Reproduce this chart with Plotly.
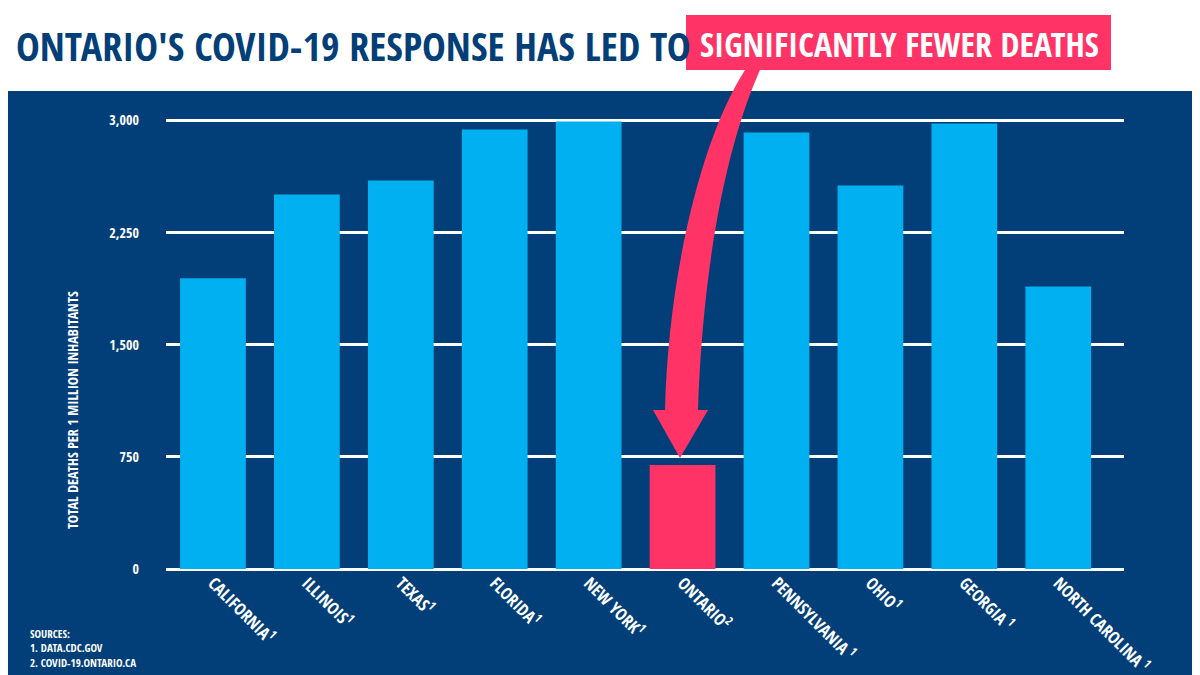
import plotly.graph_objects as go

# data
states = ["CALIFORNIA", "ILLINOIS", "TEXAS", "FLORIDA", "NEW YORK",
          "ONTARIO", "PENNSYLVANIA", "OHIO", "GEORGIA", "NORTH CAROLINA"]
source_ref = ["1", "1", "1", "1", "1", "2", " 1", "1", " 1", " 1"]
deaths_per_million = [1944, 2505, 2599, 2939, 2993, 695, 2919, 2565, 2979, 1890]
y_ticks = [0, 750, 1500, 2250, 3000]

NAVY = "#023f78"
CYAN = "#00b0f0"
PINK = "#ff3366"
FONT = "Open Sans Condensed, Roboto Condensed, sans-serif"

tick_text = ["<b>" + s + "</b><sup>" + r + "</sup>" for s, r in zip(states, source_ref)]
bar_colors = [PINK if s == "ONTARIO" else CYAN for s in states]

# page body adds an 8px offset; positions below are in screenshot pixels
OFF = 8
W, H = 1200, 675
L, R = 166 - OFF, W - (1124 - OFF)
T, B = 116 - OFF, H - (569 - OFF)
pw, ph = W - L - R, H - T - B


def px(x, y):
    return (x - OFF - L) / pw, (H - B - (y - OFF)) / ph


def path(cmds):
    out = []
    for c in cmds:
        if isinstance(c, str):
            out.append(c)
        else:
            a, b = px(*c)
            out.append("%.4f,%.4f" % (a, b))
    return " ".join(out)


fig = go.Figure()
fig.add_trace(go.Bar(
    x=list(range(len(states))),
    y=deaths_per_million,
    marker=dict(color=bar_colors, line=dict(width=0)),
    hoverinfo="skip",
))

arrow = path(["M", (745, 70), "C", (700, 140), (668, 280), (665, 410),
              "L", (653, 410), "L", (680, 458), "L", (708, 410), "L", (698, 410),
              "C", (702, 290), (720, 160), (760, 70), "Z"])

x0, y0 = px(0, 0)
x1, y1 = px(W + OFF, 91)
bx0, by0 = px(686, 15)
bx1, by1 = px(1111, 70)

fig.update_layout(
    width=W, height=H,
    margin=dict(l=L, r=R, t=T, b=B, pad=0),
    paper_bgcolor=NAVY, plot_bgcolor=NAVY,
    showlegend=False,
    bargap=0.3,
    font=dict(family=FONT, color="white"),
    xaxis=dict(
        range=[-0.5, 9.7], automargin=False,
        tickmode="array", tickvals=list(range(len(states))), ticktext=tick_text,
        tickangle=45, tickfont=dict(size=17, color="white"),
        showgrid=False, zeroline=False, showline=False, ticks="",
        ticklabelstandoff=0,
    ),
    yaxis=dict(
        range=[0, 3030], automargin=False,
        tickmode="array", tickvals=y_ticks,
        ticktext=["<b>" + format(v, ",") + "</b>" for v in y_ticks],
        tickfont=dict(size=14, color="white"),
        ticklabelstandoff=26,
        showgrid=True, gridcolor="white", gridwidth=3,
        zeroline=True, zerolinecolor="white", zerolinewidth=3,
        showline=False, ticks="",
    ),
    shapes=[
        dict(type="rect", xref="paper", yref="paper", x0=x0, x1=x1, y0=y0, y1=y1,
             fillcolor="white", line=dict(width=0), layer="below"),
        dict(type="rect", xref="paper", yref="paper", x0=bx0, x1=bx1, y0=by0, y1=by1,
             fillcolor=PINK, line=dict(width=0)),
        dict(type="path", xref="paper", yref="paper", path=arrow,
             fillcolor=PINK, line=dict(width=0)),
    ],
    annotations=[
        dict(text="<b>ONTARIO'S COVID-19 RESPONSE HAS LED TO</b>",
             xref="paper", yref="paper", x=px(14, 0)[0], y=px(0, 45)[1],
             xanchor="left", yanchor="middle", showarrow=False,
             font=dict(size=40, color=NAVY, family=FONT)),
        dict(text="<b>SIGNIFICANTLY FEWER DEATHS</b>",
             xref="paper", yref="paper", x=px(899, 0)[0], y=px(0, 44)[1],
             xanchor="center", yanchor="middle", showarrow=False,
             font=dict(size=34, color="white", family=FONT)),
        dict(text="<b>TOTAL DEATHS PER 1 MILLION INHABITANTS</b>",
             xref="paper", yref="paper", x=px(72, 0)[0], y=px(0, 410)[1],
             xanchor="center", yanchor="middle", textangle=-90, showarrow=False,
             font=dict(size=14, color="white")),
        dict(text="<b>SOURCES:<br>1. DATA.CDC.GOV<br>2. COVID-19.ONTARIO.CA</b>",
             xref="paper", yref="paper", x=px(28, 0)[0], y=px(0, 624)[1],
             xanchor="left", yanchor="top", align="left", showarrow=False,
             font=dict(size=11, color="white")),
    ],
)

fig.write_html("out.html")
